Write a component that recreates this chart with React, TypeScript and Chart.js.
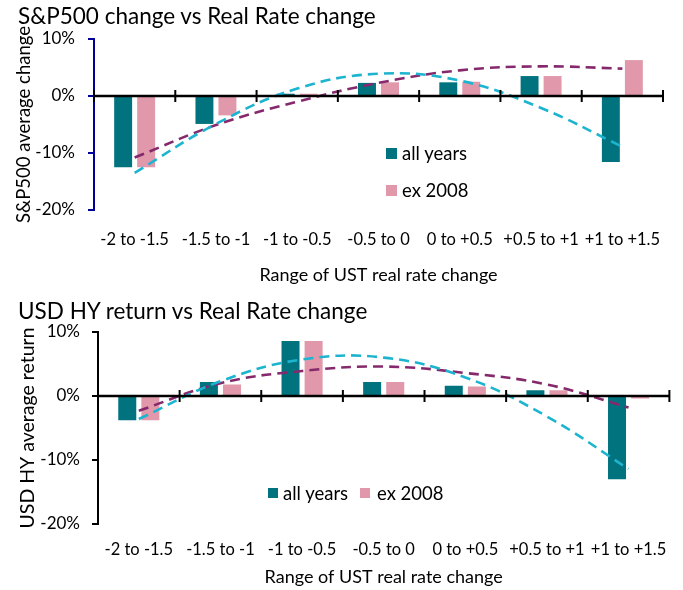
import React, { useEffect, useRef } from "react";
import { Chart, registerables } from "chart.js";

Chart.register(...registerables);

const categories = ["-2 to -1.5", "-1.5 to -1", "-1 to -0.5", "-0.5 to 0", "0 to +0.5", "+0.5 to +1", "+1 to +1.5"];
const yTicks = [-20, -10, 0, 10];

const spxAllYears = [-12.5, -4.9, 0.4, 2.3, 2.4, 3.5, -11.6];
const spxEx2008 = [-12.5, -3.4, 0.4, 2.4, 2.5, 3.5, 6.3];
const spxAllTrend = [-13.5, -4.9, 1.3, 3.9, 2.7, -2.1, -8.9];
const spxExTrend = [-10.8, -5.1, -1.0, 2.3, 4.5, 5.2, 4.8];

const hyAllYears = [-3.8, 2.2, 8.6, 2.2, 1.6, 0.9, -13.0];
const hyEx2008 = [-3.8, 1.8, 8.6, 2.2, 1.5, 0.9, -0.4];
const hyAllTrend = [-3.6, 2.3, 5.7, 6.0, 2.9, -3.2, -11.4];
const hyExTrend = [-2.3, 2.0, 3.9, 4.6, 3.6, 1.8, -1.8];

const TEAL = "#01737f";
const PINK = "#e198aa";
const CYAN = "#1cb4cf";
const PURPLE = "#86296c";
const FONT = "Lato, 'Open Sans', sans-serif";

const zeroAxisPlugin = {
  id: "zeroAxis",
  afterDatasetsDraw(chart: any) {
    const { ctx, chartArea, scales } = chart;
    const y0 = scales.y.getPixelForValue(0);
    const n = categories.length;
    const w = (chartArea.right - chartArea.left) / n;
    ctx.save();
    ctx.strokeStyle = "#000";
    ctx.lineWidth = 2.5;
    ctx.beginPath();
    ctx.moveTo(chartArea.left, y0);
    ctx.lineTo(chartArea.right, y0);
    ctx.stroke();
    ctx.lineWidth = 2;
    for (let i = 0; i <= n; i++) {
      const x = chartArea.left + i * w;
      ctx.beginPath();
      ctx.moveTo(x, y0 - 6);
      ctx.lineTo(x, y0 + 6);
      ctx.stroke();
    }
    ctx.restore();
  },
};

type Cfg = {
  all: number[];
  ex: number[];
  allTrend: number[];
  exTrend: number[];
  yTitle: string;
  axisColor: string;
  yWidth: number;
  yTitlePad: number;
  yTitleSize: number;
  yTickPad: number;
  padTop: number;
  padRight: number;
  xHeight: number;
  xTickPad: number;
  xTitlePad: number;
};

function makeChart(canvas: HTMLCanvasElement, c: Cfg) {
  return new Chart(canvas, {
    type: "bar",
    data: {
      labels: categories,
      datasets: [
        { type: "line", label: "trend all", data: c.allTrend, borderColor: CYAN, borderWidth: 2.6, borderDash: [10, 6], pointRadius: 0, tension: 0.4, fill: false, order: 0 } as any,
        { type: "line", label: "trend ex", data: c.exTrend, borderColor: PURPLE, borderWidth: 2.6, borderDash: [10, 6], pointRadius: 0, tension: 0.4, fill: false, order: 0 } as any,
        { label: "all years", data: c.all, backgroundColor: TEAL, categoryPercentage: 0.566, barPercentage: 0.78, order: 1 },
        { label: "ex 2008", data: c.ex, backgroundColor: PINK, categoryPercentage: 0.566, barPercentage: 0.78, order: 1 },
      ],
    },
    options: {
      responsive: false,
      animation: false,
      layout: { padding: { left: 0, right: c.padRight, top: c.padTop, bottom: 0 } },
      plugins: { legend: { display: false }, tooltip: { enabled: false }, title: { display: false } },
      scales: {
        x: {
          grid: { display: false, drawTicks: false },
          border: { display: false },
          ticks: { color: "#000", font: { family: FONT, size: 16.5 }, padding: c.xTickPad, maxRotation: 0, minRotation: 0, autoSkip: false },
          title: { display: true, text: "Range of UST real rate change", color: "#000", font: { family: FONT, size: 18 }, padding: { top: 0, bottom: c.xTitlePad } },
          afterFit: (s: any) => { s.height = c.xHeight; },
        },
        y: {
          min: -20,
          max: 10,
          afterBuildTicks: (s: any) => { s.ticks = yTicks.map((v) => ({ value: v })); },
          grid: { drawOnChartArea: false, drawTicks: true, tickLength: 6, color: c.axisColor, lineWidth: 2 },
          border: { display: true, color: c.axisColor, width: 2 },
          ticks: { color: "#000", font: { family: FONT, size: 17 }, padding: c.yTickPad, callback: (v: any) => v + "%" },
          title: { display: true, text: c.yTitle, color: "#000", font: { family: FONT, size: c.yTitleSize }, padding: { top: c.yTitlePad, bottom: 0 } },
          afterFit: (s: any) => { s.width = c.yWidth; },
        },
      },
    },
    plugins: [zeroAxisPlugin],
  });
}

const sw = (left: number, top: number, size: number, color: string): React.CSSProperties => ({
  position: "absolute", left, top, width: size, height: size, background: color,
});
const txt = (left: number, cy: number, size: number): React.CSSProperties => ({
  position: "absolute", left, top: cy - size * 0.62, fontFamily: FONT, fontSize: size, lineHeight: `${Math.round(size * 1.24)}px`, color: "#000", whiteSpace: "nowrap",
});

export default function App() {
  const ref1 = useRef<HTMLCanvasElement>(null);
  const ref2 = useRef<HTMLCanvasElement>(null);

  useEffect(() => {
    document.body.style.margin = "0";
    const c1 = makeChart(ref1.current!, {
      all: spxAllYears, ex: spxEx2008, allTrend: spxAllTrend, exTrend: spxExTrend,
      yTitle: "S&P500 average change", axisColor: "#000099",
      yWidth: 94, yTitlePad: 13, yTitleSize: 18.5, yTickPad: 13, padTop: 39, padRight: 20,
      xHeight: 85, xTickPad: 20, xTitlePad: 9,
    });
    const c2 = makeChart(ref2.current!, {
      all: hyAllYears, ex: hyEx2008, allTrend: hyAllTrend, exTrend: hyExTrend,
      yTitle: "USD HY average return", axisColor: "#000",
      yWidth: 98, yTitlePad: 16, yTitleSize: 19.5, yTickPad: 12, padTop: 37, padRight: 10,
      xHeight: 66, xTickPad: 16, xTitlePad: 2,
    });
    return () => { c1.destroy(); c2.destroy(); };
  }, []);

  const titleStyle = (top: number): React.CSSProperties => ({
    position: "absolute", left: 18, top, fontFamily: FONT, fontSize: 22.5, lineHeight: "28px", color: "#000", whiteSpace: "nowrap",
  });

  return (
    <div style={{ position: "relative", width: 683, height: 590 }}>
      <canvas ref={ref1} width={683} height={295} style={{ position: "absolute", left: 0, top: 0 }} />
      <canvas ref={ref2} width={683} height={295} style={{ position: "absolute", left: 0, top: 295 }} />
      <div style={titleStyle(2)}>S&amp;P500 change vs Real Rate change</div>
      <div style={titleStyle(297)}>USD HY return vs Real Rate change</div>

      <div style={sw(386, 148, 11, TEAL)} />
      <div style={txt(402, 153, 18.5)}>all years</div>
      <div style={sw(386, 185, 11, PINK)} />
      <div style={txt(402, 190, 18.5)}>ex 2008</div>

      <div style={sw(268, 488, 10, TEAL)} />
      <div style={txt(283, 493, 18.5)}>all years</div>
      <div style={sw(360, 488, 10, PINK)} />
      <div style={txt(377, 493, 18.5)}>ex 2008</div>
    </div>
  );
}
